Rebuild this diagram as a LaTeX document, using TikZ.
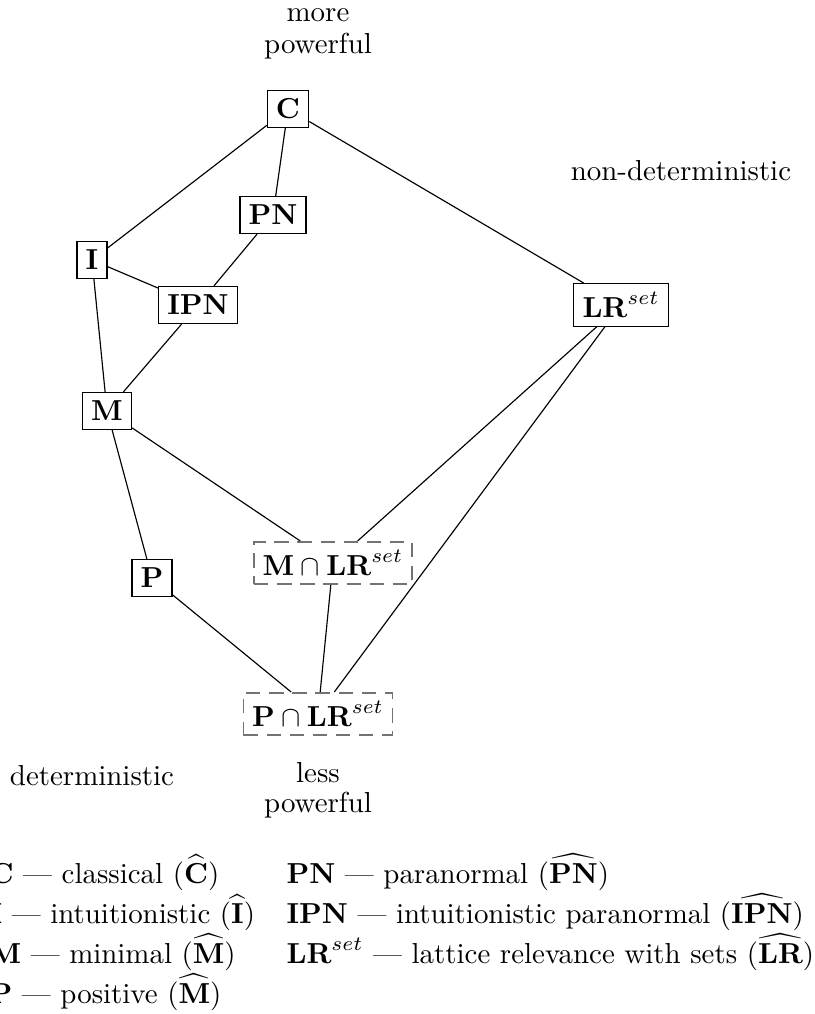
\documentclass[tikz,border=0pt]{standalone}
\usepackage{amsmath}
\begin{document}
\begin{tikzpicture}[x=0.346pt,y=-0.346pt,
  lbox/.style={draw=black,line width=0.4pt,inner sep=3pt,minimum height=12.6pt},
  dbox/.style={draw=black!55,line width=0.55pt,dash pattern=on 5pt off 3pt,inner sep=3pt,minimum height=13.5pt},
  edge/.style={draw=black,line width=0.4pt},
  lbl/.style={anchor=base,inner sep=0pt},
  leg/.style={anchor=base west,inner sep=0pt}]
\useasboundingbox (0,0) rectangle (814,1014);
\clip (0,0) rectangle (814,1014);
% labels
\node[lbl] (mp1) at (318,21) {more};
\node[lbl] (mp2) at (318,53) {powerful};
\node[lbl] (nd) at (681,180) {non-deterministic};
\node[lbl] (det) at (92,785) {deterministic};
\node[lbl] (lp1) at (318,782) {less};
\node[lbl] (lp2) at (318,812) {powerful};
% nodes
\node[lbox] (C) at (288,109) {$\mathbf{C}$};
\node[lbox] (PN) at (273,215) {$\mathbf{PN}$};
\node[lbox] (I) at (92,260) {$\mathbf{I}$};
\node[lbox] (IPN) at (198,305) {$\mathbf{IPN}$};
\node[lbox] (LR) at (621,305) {$\mathbf{LR}^{set}$};
\node[lbox] (M) at (107,411) {$\mathbf{M}$};
\node[dbox] (Mcap) at (333,563) {$\mathbf{M}\cap\mathbf{LR}^{set}$};
\node[lbox] (P) at (152,578) {$\mathbf{P}$};
\node[dbox] (Pcap) at (318,714) {$\mathbf{P}\cap\mathbf{LR}^{set}$};
% edges
\path[edge] (C) -- (I);
\path[edge] (C) -- (PN);
\path[edge] (C) -- (LR);
\path[edge] (PN) -- (IPN);
\path[edge] (I) -- (IPN);
\path[edge] (I) -- (M);
\path[edge] (IPN) -- (M);
\path[edge] (M) -- (P);
\path[edge] (M) -- (Mcap);
\path[edge] (LR) -- (Mcap);
\path[edge] (LR) -- (Pcap);
\path[edge] (Mcap) -- (Pcap);
\path[edge] (P) -- (Pcap);
% legend
\node[leg] (l1) at (-11,883) {$\mathbf{C}$ --- classical ($\widehat{\mathbf{C}}$)};
\node[leg] (l2) at (-11,923) {$\mathbf{I}$ --- intuitionistic ($\widehat{\mathbf{I}}$)};
\node[leg] (l3) at (-11,963) {$\mathbf{M}$ --- minimal ($\widehat{\mathbf{M}}$)};
\node[leg] (l4) at (-11,1003) {$\mathbf{P}$ --- positive ($\widehat{\mathbf{M}}$)};
\node[leg] (r1) at (286,883) {$\mathbf{PN}$ --- paranormal ($\widehat{\mathbf{PN}}$)};
\node[leg] (r2) at (286,923) {$\mathbf{IPN}$ --- intuitionistic paranormal ($\widehat{\mathbf{IPN}}$)};
\node[leg] (r3) at (286,963) {$\mathbf{LR}^{set}$ --- lattice relevance with sets ($\widehat{\mathbf{LR}}$)};
\end{tikzpicture}
\end{document}
